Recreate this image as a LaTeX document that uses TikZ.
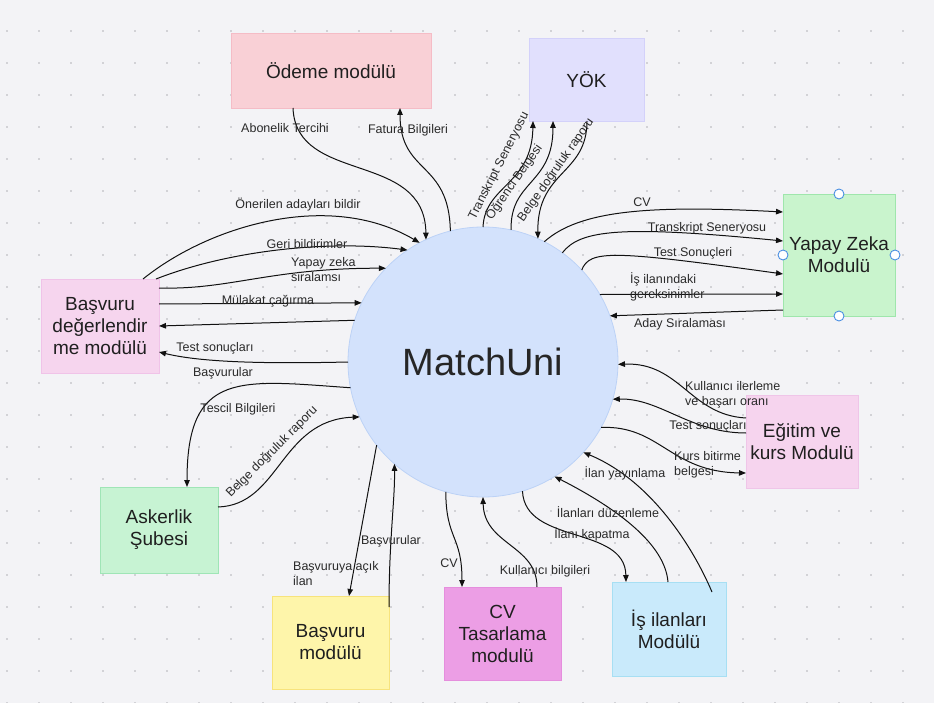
\documentclass[tikz,border=0pt]{standalone}
\usepackage{fontspec}
\setmainfont{Liberation Sans}
\usetikzlibrary{arrows.meta,calc}
\definecolor{bg}{HTML}{F3F3F6}
\definecolor{dotc}{HTML}{D2D2D6}
\definecolor{lc}{HTML}{111111}
\definecolor{tc}{HTML}{2A2A2A}
\definecolor{circf}{HTML}{D3E2FC}
\definecolor{circd}{HTML}{BCD2F6}
\definecolor{odef}{HTML}{F9D0D6}\definecolor{oded}{HTML}{F5BCC6}
\definecolor{yokf}{HTML}{E1E0FD}\definecolor{yokd}{HTML}{D3D1FA}
\definecolor{yzf}{HTML}{C9F4CD}\definecolor{yzd}{HTML}{9FE6AC}
\definecolor{bdf}{HTML}{F6D5EE}\definecolor{bdd}{HTML}{F0C3E8}
\definecolor{askf}{HTML}{C7F3D3}\definecolor{askd}{HTML}{9FE5B6}
\definecolor{bmf}{HTML}{FEF5AA}\definecolor{bmd}{HTML}{F7E37C}
\definecolor{cvf}{HTML}{EC9EE5}\definecolor{cvd}{HTML}{E58EDD}
\definecolor{isif}{HTML}{C9EAFB}\definecolor{isid}{HTML}{A7DFF3}
\definecolor{egtf}{HTML}{F6D4EE}\definecolor{egtd}{HTML}{EFC5E8}
\definecolor{handle}{HTML}{4A8FE2}
\tikzset{
  modbox/.style={rectangle,inner sep=0pt,outer sep=0pt,line width=0.8pt,align=center,
    text=black!88,font=\fontsize{19}{22}\selectfont},
  flow/.style={line width=1pt,draw=lc,-{Triangle[length=7pt,width=5.5pt]}},
  lbl/.style={inner sep=0pt,text=tc,font=\fontsize{12.5}{15}\selectfont},
  lbll/.style={lbl,align=left,anchor=west},
  hnd/.style={circle,draw=handle,fill=white,line width=0.9pt,minimum size=10pt,inner sep=0pt}
}
\begin{document}
\begin{tikzpicture}[x=1pt,y=-1pt]
\useasboundingbox (0,0) rectangle (934,703);
\fill[bg] (0,0) rectangle (934,703);
\foreach \gx in {7,39,...,935} {
  \foreach \gy in {-1,31,...,703} {
    \fill[dotc] (\gx-1,\gy-1) rectangle (\gx+1,\gy+1);
  }
}
% nodes
\node[circle,fill=circf,draw=circd,line width=0.8pt,minimum size=270pt,inner sep=0pt,outer sep=0pt,
  font=\fontsize{38}{40}\selectfont,text=black!85] (mu) at (483,362) {MatchUni};
\node[modbox,fill=odef,draw=oded,minimum width=200pt,minimum height=75pt] (ode) at (331,70.5) {Ödeme modülü};
\node[modbox,fill=yokf,draw=yokd,minimum width=115pt,minimum height=83pt] (yok) at (586.5,79.5) {YÖK};
\node[modbox,fill=yzf,draw=yzd,minimum width=112pt,minimum height=122pt] (yz) at (839,255) {Yapay Zeka\\Modulü};
\node[modbox,fill=bdf,draw=bdd,minimum width=118pt,minimum height=94pt] (bd) at (100,326) {Başvuru\\değerlendir\\me modülü};
\node[modbox,fill=askf,draw=askd,minimum width=118pt,minimum height=86pt] (ask) at (159,530) {Askerlik\\Şubesi};
\node[modbox,fill=bmf,draw=bmd,minimum width=117pt,minimum height=93pt] (bm) at (330.5,642.5) {Başvuru\\modülü};
\node[modbox,fill=cvf,draw=cvd,minimum width=117pt,minimum height=93pt] (cv) at (502.5,633.5) {CV\\Tasarlama\\modulü};
\node[modbox,fill=isif,draw=isid,minimum width=114pt,minimum height=94pt] (isi) at (669,629) {İş ilanları\\Modülü};
\node[modbox,fill=egtf,draw=egtd,minimum width=112pt,minimum height=93pt] (egt) at (802,441.5) {Eğitim ve\\kurs Modulü};
% selection handles on Yapay Zeka
\node[hnd] (h1) at (yz.north) {};
\node[hnd] (h2) at (yz.south) {};
\node[hnd] (h3) at (yz.west) {};
\node[hnd] (h4) at (yz.east) {};
% Odeme
\draw[flow] (293,0 |- ode.south) .. controls (296,185) and (425,150) .. (mu.115.4);
\draw[flow] (mu.104.7) .. controls (449,160) and (400,175) .. (400,0 |- ode.south);
% Basvuru degerlendirme
\draw[flow] (143,0 |- bd.north) .. controls (210,225) and (330,190) .. (mu.118.4);
\draw[flow] (156,0 |- bd.north) .. controls (230,250) and (330,240) .. (mu.124);
\draw[flow] (bd.east |- 0,288) .. controls (230,290) and (270,268) .. (mu.136.8);
\draw[flow] (bd.east |- 0,304) -- (mu.154.8);
\draw[flow] (mu.162.9) -- (bd.east |- 0,326);
\draw[flow] (mu.180) .. controls (260,364) and (200,362) .. (bd.east |- 0,352);
% Askerlik
\draw[flow] (mu.191.5) .. controls (240,380) and (187,370) .. (187,0 |- ask.north);
\draw[flow] (ask.east |- 0,507) .. controls (280,505) and (280,420) .. (mu.204.5);
% Basvuru modulu
\draw[flow] (mu.218.7) -- (349,0 |- bm.north);
\draw[flow] (bm.east |- 0,607) .. controls (389,540) and (395,500) .. (mu.229.5);
% CV
\draw[flow] (mu.254.1) .. controls (446,540) and (462,535) .. (462,0 |- cv.north);
\draw[flow] (537,0 |- cv.north) .. controls (537,545) and (484,545) .. (mu.270);
% Is ilanlari
\draw[flow] (mu.287.1) .. controls (525,545) and (625,525) .. (626,0 |- isi.north);
\draw[flow] (668,0 |- isi.north) .. controls (665,545) and (620,510) .. (mu.302);
\draw[flow] ($(isi.north east)+(-14,10)$) .. controls (692,545) and (650,480) .. (mu.318.6);
% Egitim
\draw[flow] (egt.west |- 0,418) .. controls (690,415) and (680,362) .. (mu.359.6);
\draw[flow] (egt.west |- 0,433) .. controls (690,433) and (660,398) .. (mu.344.7);
\draw[flow] (mu.331.4) .. controls (660,425) and (670,472) .. (egt.west |- 0,473);
% Yapay Zeka
\draw[flow] (mu.63.1) .. controls (580,210) and (650,205) .. (yz.west |- 0,212);
\draw[flow] (mu.54.3) .. controls (580,230) and (620,225) .. (yz.west |- 0,241);
\draw[flow] (mu.43.8) .. controls (590,250) and (610,250) .. (yz.west |- 0,274);
\draw[flow] (mu.30.9) -- (yz.west |- 0,294);
\draw[flow] (yz.west |- 0,310) -- (mu.20.9);
% YOK
\draw[flow] (mu.90) .. controls (485,185) and (532,185) .. (533,0 |- yok.south);
\draw[flow] (mu.78.4) .. controls (510,180) and (553,185) .. (553,0 |- yok.south);
\draw[flow] (587,0 |- yok.south) .. controls (587,175) and (537,170) .. (mu.66.6);
% labels
\node[lbl] (l1) at (285,128) {Abonelik Tercihi};
\node[lbl] (l2) at (408,130) {Fatura Bilgileri};
\node[lbl] (l3) at (298,205) {Önerilen adayları bildir};
\node[lbl] (l4) at (307,244) {Geri bildirimler};
\node[lbll] (l5) at (291,270) {Yapay zeka\\siralamsı};
\node[lbl] (l6) at (268,301) {Mülakat çağırma};
\node[lbl] (l7) at (215,348) {Test sonuçları};
\node[lbl] (l8) at (223,373) {Başvurular};
\node[lbl] (l9) at (238,409) {Tescil Bilgileri};
\node[lbl,rotate=45] (l10) at (272,452) {Belge doğruluk raporu};
\node[lbll] (l11) at (293,574) {Başvuruya açık\\ilan};
\node[lbl] (l12) at (391,541) {Başvurular};
\node[lbl] (l13) at (449,563) {CV};
\node[lbl] (l14) at (545,571) {Kullanıcı bilgileri};
\node[lbl] (l15) at (592,534) {İlanı kapatma};
\node[lbl] (l16) at (608,512) {İlanları düzenleme};
\node[lbl] (l17) at (625,473) {İlan yayınlama};
\node[lbll] (l18) at (685,395) {Kullanıcı ilerleme\\ve başarı oranı};
\node[lbl] (l19) at (708,426) {Test sonuçları};
\node[lbll] (l20) at (674,465) {Kurs bitirme\\belgesi};
\node[lbl] (l21) at (642,202) {CV};
\node[lbl] (l22) at (707,228) {Transkript Seneryosu};
\node[lbl] (l23) at (693,253) {Test Sonuçleri};
\node[lbll] (l24) at (630,287) {İş ilanındaki\\gereksinimler};
\node[lbl] (l25) at (680,324) {Aday Sıralaması};
\node[lbl,rotate=63] (l26) at (499,166) {Transkript Seneryosu};
\node[lbl,rotate=55] (l27) at (514,182) {Öğrenci Belgesi};
\node[lbl,rotate=55] (l28) at (556,170) {Belge doğruluk raporu};
\end{tikzpicture}
\end{document}
